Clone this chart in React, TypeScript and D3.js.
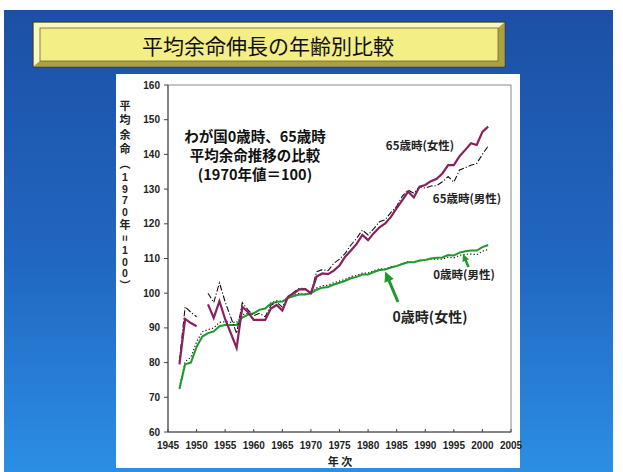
import React from "react";
import * as d3 from "d3";

// Survey years (1951 has no 65-year-old figure, so those series break there)
const years = [
  1947, 1948, 1949, 1950, 1951, 1952, 1953, 1954, 1955, 1956,
  1957, 1958, 1959, 1960, 1961, 1962, 1963, 1964, 1965, 1966,
  1967, 1968, 1969, 1970, 1971, 1972, 1973, 1974, 1975, 1976,
  1977, 1978, 1979, 1980, 1981, 1982, 1983, 1984, 1985, 1986,
  1987, 1988, 1989, 1990, 1991, 1992, 1993, 1994, 1995, 1996,
  1997, 1998, 1999, 2000, 2001,
];

// Life expectancy index, 1970 = 100
const female65: (number | null)[] = [
  79.5, 92.6, 91.4, 90.5, null, 96.8, 92.9, 97.7, 92.5, 88.4,
  84.2, 96.1, 94.5, 92.3, 92.3, 92.3, 95.6, 96.6, 95.0, 99.0,
  100.0, 101.1, 101.2, 100.0, 104.8, 105.7, 105.5, 106.5, 108.0, 110.5,
  112.3, 114.2, 116.8, 115.3, 117.3, 119.0, 120.1, 122.0, 124.5, 126.8,
  129.3, 127.6, 130.7, 131.2, 132.3, 133.0, 134.5, 136.9, 136.9, 139.5,
  141.3, 143.2, 142.7, 146.5, 148.0,
];
const male65: (number | null)[] = [
  80.5, 96.1, 94.5, 93.2, null, 100.0, 97.3, 103.0, 97.5, 93.0,
  88.4, 97.3, 95.2, 93.5, 94.2, 93.2, 96.5, 97.4, 96.0, 99.0,
  100.3, 101.5, 101.3, 100.0, 106.2, 106.8, 106.5, 108.6, 109.8, 111.5,
  113.9, 115.8, 118.2, 116.8, 118.6, 120.6, 121.2, 123.3, 125.0, 128.0,
  129.7, 128.8, 130.7, 130.3, 130.9, 131.0, 132.1, 133.6, 132.0, 135.5,
  136.2, 136.9, 137.4, 140.0, 142.4,
];
const female0: number[] = [
  72.4, 79.5, 80.0, 84.5, 87.5, 88.5, 89.0, 90.5, 90.8, 90.8,
  90.8, 93.0, 93.8, 94.2, 95.2, 95.6, 97.0, 97.5, 97.6, 98.6,
  99.2, 99.6, 99.6, 100.0, 101.0, 101.6, 101.8, 102.5, 103.0, 103.6,
  104.3, 104.7, 105.4, 105.4, 106.1, 106.7, 106.8, 107.4, 107.8, 108.4,
  108.9, 108.9, 109.4, 109.6, 110.0, 110.2, 110.3, 111.0, 110.9, 111.7,
  112.1, 112.3, 112.3, 113.3, 113.9,
];
const male0: number[] = [
  73.0, 80.3, 81.5, 86.0, 88.9, 89.5, 90.0, 91.6, 91.8, 91.6,
  91.6, 93.8, 94.2, 94.2, 95.3, 95.5, 97.2, 97.8, 97.7, 99.0,
  99.6, 99.9, 99.8, 100.0, 101.5, 102.1, 102.3, 103.0, 103.5, 104.0,
  104.8, 105.1, 105.8, 105.8, 106.5, 107.0, 107.0, 107.6, 107.9, 108.5,
  109.1, 108.9, 109.3, 109.5, 109.8, 109.8, 109.8, 110.4, 110.2, 110.9,
  111.2, 111.3, 111.1, 112.1, 112.6,
];

const xTicks = [1945, 1950, 1955, 1960, 1965, 1970, 1975, 1980, 1985, 1990, 1995, 2000, 2005];
const yTicks = [60, 70, 80, 90, 100, 110, 120, 130, 140, 150, 160];

const titleText = "平均余命伸長の年齢別比較";
const noteLines = ["わが国0歳時、65歳時", "平均余命推移の比較", "(1970年値＝100)"];
// vertical title; "=" is turned upright when stacked
const yTitleChars = ["平", "均", "余", "命", "︵", "1", "9", "7", "0", "年", "=", "1", "0", "0", "︶"];
const xTitle = "年 次";

const W = 623;
const H = 472;
const plot = { left: 168, right: 511, top: 85, bottom: 432 };

const JP = "'Noto Sans CJK JP', 'Noto Sans', sans-serif";
const NUM = "'Liberation Sans', Arial, sans-serif";

const PURPLE = "#8a1f5e";
const GREEN = "#1f9a2a";

function Arrow({
  tip,
  tail,
  color,
  headL,
  headW,
  width,
}: {
  tip: [number, number];
  tail: [number, number];
  color: string;
  headL: number;
  headW: number;
  width: number;
}) {
  const dx = tip[0] - tail[0];
  const dy = tip[1] - tail[1];
  const len = Math.hypot(dx, dy);
  const ux = dx / len;
  const uy = dy / len;
  const bx = tip[0] - ux * headL;
  const by = tip[1] - uy * headL;
  const px = -uy;
  const py = ux;
  return (
    <g>
      <line x1={tail[0]} y1={tail[1]} x2={bx + ux * 1} y2={by + uy * 1} stroke={color} strokeWidth={width} />
      <polygon
        points={`${tip[0]},${tip[1]} ${bx + px * headW},${by + py * headW} ${bx - px * headW},${by - py * headW}`}
        fill={color}
      />
    </g>
  );
}

export default function App() {
  const x = d3.scaleLinear().domain([1945, 2005]).range([plot.left, plot.right]);
  const y = d3.scaleLinear().domain([60, 160]).range([plot.bottom, plot.top]);

  const line = d3
    .line<[number, number | null]>()
    .defined((d) => d[1] !== null)
    .x((d) => x(d[0]))
    .y((d) => y(d[1] as number));

  const zip = (vals: (number | null)[]) => years.map((yr, i) => [yr, vals[i]] as [number, number | null]);

  const idx = (yr: number) => years.indexOf(yr);
  const bigTip: [number, number] = [x(1983), y(female0[idx(1983)]) + 2];
  const smallTip: [number, number] = [x(1996.6), y(female0[idx(1996)]) + 1.5];

  // stacked vertical axis title: CJK glyphs take a full step, digits a shorter one
  let cy = 105;
  const yTitlePos = yTitleChars.map((c) => {
    const isWide = /[\u3000-\u9fff\uff00-\uffef\ufe30-\ufe4f]/.test(c);
    const pos = cy;
    cy += isWide ? 14.4 : 11.7;
    return { c, pos, isWide };
  });

  return (
    <svg
      width={W}
      height={H}
      viewBox={`0 0 ${W} ${H}`}
      style={{ position: "absolute", left: 0, top: 0, display: "block" }}
    >
      <defs>
        <linearGradient id="bg" x1="0" y1="0" x2="0" y2="1">
          <stop offset="0" stopColor="#1c50a5" />
          <stop offset="0.55" stopColor="#2167c2" />
          <stop offset="1" stopColor="#2c8fe2" />
        </linearGradient>
      </defs>
      <rect x={0} y={0} width={W} height={H} fill="#ffffff" />
      <rect x={4} y={10} width={609} height={H - 10} fill="url(#bg)" />

      {/* title banner with bevelled frame */}
      <g>
        <rect x={33} y={22} width={472} height={45} fill="#d8d068" stroke="#3a3a3a" strokeWidth={1} />
        <polygon points="34,23 504,23 498,28 40,28 40,61 34,66" fill="#fbf7c0" />
        <polygon points="504,23 504,66 34,66 40,61 498,61 498,28" fill="#aaa23e" />
        <rect x={40} y={28} width={458} height={33} fill="#f4ee86" stroke="#6b6630" strokeWidth={0.8} />
        <text
          x={268}
          y={45}
          textAnchor="middle"
          dominantBaseline="central"
          fontFamily={JP}
          fontSize={21}
          fill="#111"
        >
          {titleText}
        </text>
      </g>

      {/* chart panel */}
      <rect x={116} y={74} width={404} height={394} fill="#ffffff" />

      {/* plot frame */}
      <rect
        x={plot.left}
        y={plot.top}
        width={plot.right - plot.left}
        height={plot.bottom - plot.top}
        fill="none"
        stroke="#8a8a8a"
        strokeWidth={1}
      />
      <line x1={plot.left} y1={plot.top} x2={plot.left} y2={plot.bottom} stroke="#444" strokeWidth={1} />
      <line x1={plot.left} y1={plot.bottom} x2={plot.right} y2={plot.bottom} stroke="#444" strokeWidth={1} />

      {/* y axis */}
      {yTicks.map((t) => (
        <g key={`y${t}`}>
          <line x1={plot.left - 4} x2={plot.left} y1={y(t)} y2={y(t)} stroke="#444" />
          <text
            x={plot.left - 8}
            y={y(t)}
            textAnchor="end"
            dominantBaseline="central"
            fontFamily={NUM}
            fontWeight="bold"
            fontSize={10}
            fill="#222"
          >
            {t}
          </text>
        </g>
      ))}

      {/* x axis */}
      {xTicks.map((t) => (
        <g key={`x${t}`}>
          <line x1={x(t)} x2={x(t)} y1={plot.bottom} y2={plot.bottom - 3} stroke="#444" />
          <text
            x={x(t)}
            y={445}
            textAnchor="middle"
            dominantBaseline="central"
            fontFamily={NUM}
            fontWeight="bold"
            fontSize={10}
            fill="#222"
          >
            {t}
          </text>
        </g>
      ))}
      <text
        x={340}
        y={461}
        textAnchor="middle"
        dominantBaseline="central"
        fontFamily={JP}
        fontWeight="bold"
        fontSize={11}
        fill="#222"
        style={{ whiteSpace: "pre" }}
      >
        {xTitle}
      </text>

      {/* vertical axis title */}
      {yTitlePos.map(({ c, pos, isWide }, i) => (
        <text
          key={`yt${i}`}
          x={125}
          y={pos}
          textAnchor="middle"
          dominantBaseline="central"
          fontFamily={isWide ? JP : NUM}
          fontWeight="bold"
          fontSize={isWide ? 11 : 10.5}
          fill="#222"
          transform={c === "=" ? `rotate(90 125 ${pos})` : undefined}
        >
          {c}
        </text>
      ))}

      {/* series */}
      <path d={line(zip(male0)) ?? ""} fill="none" stroke="#111" strokeWidth={1.2} strokeDasharray="1.2,2.2" />
      <path d={line(zip(female0)) ?? ""} fill="none" stroke={GREEN} strokeWidth={2} />
      <path d={line(zip(male65)) ?? ""} fill="none" stroke="#111" strokeWidth={1.1} strokeDasharray="6,2,1.2,2" />
      <path d={line(zip(female65)) ?? ""} fill="none" stroke={PURPLE} strokeWidth={2.2} />

      {/* note */}
      {noteLines.map((s, i) => (
        <text
          key={`n${i}`}
          x={255}
          y={135 + i * 19}
          textAnchor="middle"
          dominantBaseline="central"
          fontFamily={JP}
          fontWeight="bold"
          fontSize={14.5}
          fill="#111"
        >
          {s}
        </text>
      ))}

      {/* series labels */}
      <text x={420} y={145} textAnchor="middle" dominantBaseline="central" fontFamily={JP} fontWeight="bold" fontSize={11.5} fill="#222">
        65歳時(女性)
      </text>
      <text x={467} y={198} textAnchor="middle" dominantBaseline="central" fontFamily={JP} fontWeight="bold" fontSize={11.5} fill="#222">
        65歳時(男性)
      </text>
      <text x={464} y={274} textAnchor="middle" dominantBaseline="central" fontFamily={JP} fontWeight="bold" fontSize={11.5} fill="#222">
        0歳時(男性)
      </text>
      <text x={430} y={316} textAnchor="middle" dominantBaseline="central" fontFamily={JP} fontWeight="bold" fontSize={14} fill="#222">
        0歳時(女性)
      </text>

      <Arrow tip={bigTip} tail={[398, 302]} color={GREEN} headL={10} headW={5} width={3} />
      <Arrow tip={smallTip} tail={[468.5, 267]} color={GREEN} headL={7} headW={3.5} width={2.5} />
    </svg>
  );
}
